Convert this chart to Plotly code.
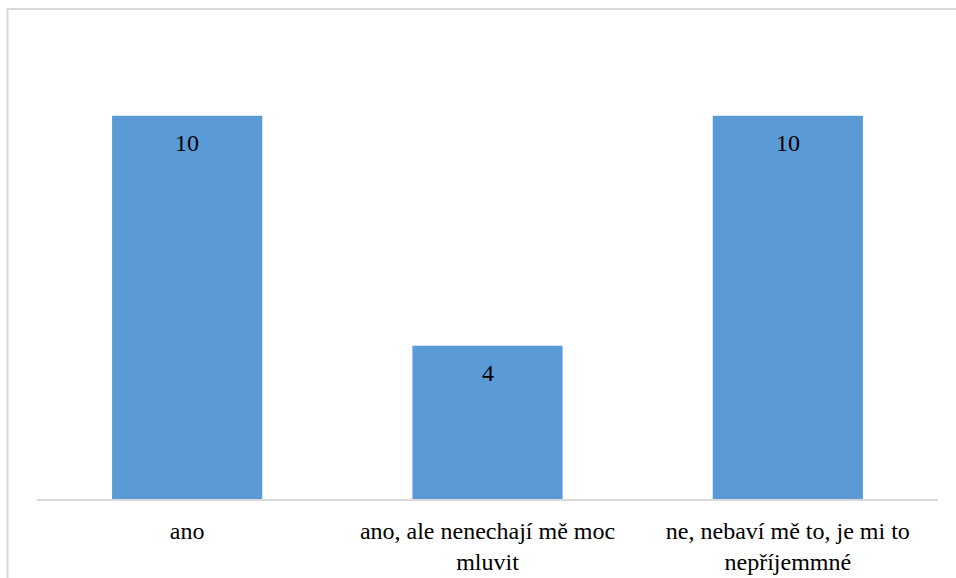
import plotly.graph_objects as go

categories = ["ano", "ano, ale nenechají mě moc<br>mluvit", "ne, nebaví mě to, je mi to<br>nepříjemmné"]
values = [10, 4, 10]

FONT = "Liberation Serif"

fig = go.Figure()
fig.add_trace(go.Bar(
    x=categories,
    y=values,
    marker=dict(color="#5A9AD7", line=dict(width=0)),
    hoverinfo="skip",
))

for c, v in zip(categories, values):
    fig.add_annotation(x=c, y=v, text=str(v), showarrow=False, yanchor="top",
                       yshift=-12, font=dict(family=FONT, size=24, color="#000000"))

fig.add_shape(type="rect", xref="paper", yref="paper",
              x0=-0.0327, x1=1.05, y0=-0.25, y1=1.065,
              line=dict(color="#D9D9D9", width=2), fillcolor="rgba(0,0,0,0)", layer="below")

fig.update_layout(
    width=956, height=578,
    margin=dict(l=37, r=18, t=39, b=79),
    paper_bgcolor="white", plot_bgcolor="white",
    bargap=0.5,
    showlegend=False,
    font=dict(family=FONT, size=24, color="#000000"),
    xaxis=dict(showline=True, linecolor="#D9D9D9", linewidth=2, ticks="", showgrid=False,
               ticklabelstandoff=9, automargin=False,
               tickfont=dict(family=FONT, size=24, color="#000000")),
    yaxis=dict(range=[0, 12], visible=False, showgrid=False, zeroline=False, automargin=False),
)

fig.write_html("out.html", config={"displayModeBar": False},
               post_script="document.body.style.margin='0';document.body.style.overflow='hidden';")
